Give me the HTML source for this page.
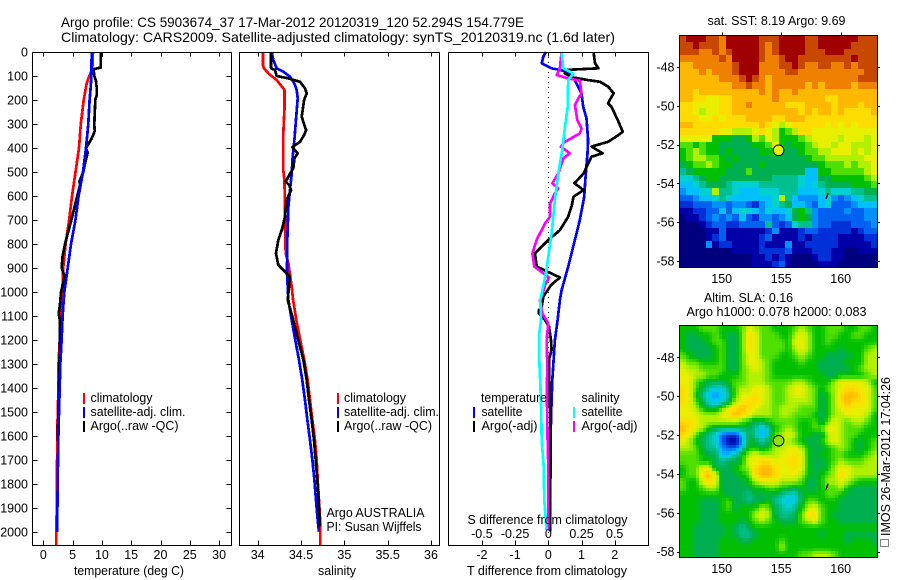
<!DOCTYPE html>
<html lang="en">
<head>
<meta charset="utf-8">
<title>Argo profile</title>
<style>
html,body{margin:0;padding:0;background:#fff;width:900px;height:580px;overflow:hidden}
svg{display:block}
text{font-family:"Liberation Sans",sans-serif;font-size:12.5px;fill:#000}
.t{font-size:14px}
</style>
</head>
<body>
<svg id="fig" xmlns="http://www.w3.org/2000/svg" width="900" height="580" viewBox="0 0 900 580">
<rect x="0" y="0" width="900" height="580" fill="#fff"/>
<g id="layer"></g>
<g id="labels">
<text class="t" x="61" y="27" textLength="463" lengthAdjust="spacingAndGlyphs">Argo profile: CS 5903674_37 17-Mar-2012 20120319_120 52.294S 154.779E</text>
<text class="t" x="61" y="42" textLength="554" lengthAdjust="spacingAndGlyphs">Climatology: CARS2009. Satellite-adjusted climatology: synTS_20120319.nc (1.6d later)</text>
<text x="74" y="575" textLength="110" lengthAdjust="spacingAndGlyphs">temperature (deg C)</text>
<text x="318" y="575" textLength="38" lengthAdjust="spacingAndGlyphs">salinity</text>
<text x="467" y="575" textLength="160" lengthAdjust="spacingAndGlyphs">T difference from climatology</text>
<text x="467.5" y="524" textLength="160" lengthAdjust="spacingAndGlyphs">S difference from climatology</text>
<text x="90.5" y="402" textLength="62" lengthAdjust="spacingAndGlyphs">climatology</text>
<text x="90.5" y="416" textLength="95" lengthAdjust="spacingAndGlyphs">satellite-adj. clim.</text>
<text x="90.5" y="430" textLength="88" lengthAdjust="spacingAndGlyphs">Argo(..raw -QC)</text>
<text x="344" y="402" textLength="62" lengthAdjust="spacingAndGlyphs">climatology</text>
<text x="344" y="416" textLength="95" lengthAdjust="spacingAndGlyphs">satellite-adj. clim.</text>
<text x="344" y="430" textLength="88" lengthAdjust="spacingAndGlyphs">Argo(..raw -QC)</text>
<text x="326.5" y="517" textLength="98" lengthAdjust="spacingAndGlyphs">Argo AUSTRALIA</text>
<text x="326.5" y="531" textLength="95" lengthAdjust="spacingAndGlyphs">PI: Susan Wijffels</text>
<text x="481" y="402" textLength="66" lengthAdjust="spacingAndGlyphs">temperature</text>
<text x="481.5" y="416" textLength="41" lengthAdjust="spacingAndGlyphs">satellite</text>
<text x="481.5" y="430" textLength="56" lengthAdjust="spacingAndGlyphs">Argo(-adj)</text>
<text x="581.5" y="402" textLength="38" lengthAdjust="spacingAndGlyphs">salinity</text>
<text x="581.5" y="416" textLength="41" lengthAdjust="spacingAndGlyphs">satellite</text>
<text x="581.5" y="430" textLength="56" lengthAdjust="spacingAndGlyphs">Argo(-adj)</text>
<text x="707.5" y="25" textLength="138" lengthAdjust="spacingAndGlyphs">sat. SST: 8.19 Argo: 9.69</text>
<text x="704" y="302" textLength="89" lengthAdjust="spacingAndGlyphs">Altim. SLA: 0.16</text>
<text x="686.5" y="316" textLength="180" lengthAdjust="spacingAndGlyphs">Argo h1000: 0.078 h2000: 0.083</text>
<rect x="880.5" y="539.5" width="8" height="7" fill="none" stroke="#000" stroke-dasharray="1 1" shape-rendering="crispEdges"/>
<text transform="translate(890,536) rotate(-90)" textLength="159" lengthAdjust="spacingAndGlyphs">IMOS 26-Mar-2012 17:04:26</text>
</g>
</svg>
<script>
// ---- temperature panel data
const tempClimDepth = [0,70,100,130,200,300,400,500,600,700,800,900,1000,1100,1200,1300,1400,1500,1600,1700,1800,1900,2000,2054];
const tempClim = [8.48,8.37,7.85,7.4,6.9,6.4,6.1,5.5,4.9,4.4,3.8,3.4,3.25,3.0,2.8,2.6,2.6,2.45,2.4,2.35,2.3,2.3,2.2,2.2];
const tempSatDepth = [0,100,150,200,300,400,500,600,700,800,900,1000,1100,1200,1300,1400,1500,1600,1700,1800,1900,2000];
const tempSat = [8.26,8.2,8.08,7.9,7.68,7.28,6.77,6.03,5.47,4.73,4.16,3.59,3.3,3.13,2.9,2.8,2.68,2.57,2.5,2.45,2.4,2.4];
const tempArgoDepth = [0,65,70,75,100,120,150,180,200,300,330,360,385,400,420,470,500,540,550,600,700,800,850,900,930,950,1000,1050,1090,1120,1200,1300,1400,1500,1620];
const tempArgo = [9.85,9.8,8.82,8.59,8.71,9.0,9.11,9.11,8.88,8.71,8.77,8.26,7.68,7.28,7.57,7.06,6.83,6.15,6.32,5.8,4.78,3.7,3.3,3.13,3.59,3.53,3.02,2.85,2.62,2.85,2.85,2.74,2.68,2.57,2.45];
const tempTicks = [0,5,10,15,20,25,30];
const depthTicks = [0,100,200,300,400,500,600,700,800,900,1000,1100,1200,1300,1400,1500,1600,1700,1800,1900,2000];

// ---- salinity panel data
const salClimDepth = [0,54,68,89,117,151,158,242,339,492,533,644,728,839,881,978,1033,1116,1200,1283,1367,1450,1533,1617,1700,1783,1867,1950,2054];
const salClim = [34.06,34.06,34.073,34.123,34.219,34.296,34.308,34.308,34.296,34.296,34.308,34.315,34.315,34.323,34.354,34.392,34.408,34.446,34.492,34.538,34.577,34.604,34.631,34.661,34.681,34.692,34.708,34.72,34.723];
const salSatDepth = [0,33,68,82,103,131,158,193,297,367,436,506,575,644,783,922,1033,1116,1200,1283,1367,1450,1533,1617,1700,1783,1867,1950,1998];
const salSat = [34.161,34.18,34.219,34.296,34.373,34.423,34.45,34.462,34.438,34.423,34.404,34.392,34.373,34.354,34.342,34.338,34.354,34.392,34.434,34.477,34.515,34.546,34.573,34.604,34.631,34.654,34.673,34.692,34.708];
const salArgoDepth = [0,68,75,100,110,124,151,172,200,242,269,304,325,346,374,388,397,422,443,485,512,540,554,575,617,686,742,783,839,888,922,936,1033,1116,1200,1283,1367,1450,1533,1617,1700,1783,1867,1977];
const salArgo = [34.154,34.154,34.2,34.219,34.354,34.488,34.546,34.565,34.535,34.519,34.508,34.538,34.558,34.535,34.488,34.43,34.4,34.462,34.423,34.411,34.365,34.323,34.361,34.385,34.334,34.315,34.277,34.238,34.211,34.238,34.334,34.373,34.346,34.411,34.469,34.527,34.565,34.592,34.623,34.65,34.669,34.688,34.704,34.72];
const salTicks = [34,34.5,35,35.5,36];

// ---- difference panel data
const dTSatDepth = [0,19,47,68,78,96,131,172,228,276,367,422,506,603,700,783,894,992,1033,1116,1200,1283,1367,1450,1533,1617,1727,1867,1998];
const dTSat = [-0.07,-0.15,-0.2,0.1,0.45,0.7,0.85,1.0,1.05,1.15,1.2,1.18,1.13,1.08,0.95,0.8,0.6,0.4,0.35,0.28,0.2,0.16,0.12,0.1,0.08,0.07,0.06,0.05,0.05];
const dTArgoDepth = [0,47,68,75,89,106,117,124,144,172,200,214,228,283,332,346,374,394,422,436,506,547,575,603,644,686,742,783,839,894,939,971,1019,1061,1075,1089,1116,1144,1200,1241,1276,1359,1450,1617,1867,1998];
const dTArgo = [1.36,1.41,1.51,0.5,0.5,0.75,1.2,1.56,1.8,1.97,1.85,1.8,1.9,2.09,2.24,2.11,1.8,1.3,1.64,1.3,1.06,0.79,1.06,0.76,0.7,0.6,0.35,0,-0.4,-0.35,0.35,0.08,-0.15,-0.2,-0.28,-0.28,-0.1,0.02,0.08,0.1,0.03,0.03,0.05,0.07,0.06,0.06];
const dSSatDepth = [0,68,89,117,228,311,408,506,617,756,922,1033,1116,1172,1283,1450,1617,1727,1867,1991];
const dSSat = [0.1,0.113,0.188,0.15,0.146,0.126,0.105,0.075,0.05,0.025,-0.018,-0.06,-0.055,-0.068,-0.068,-0.055,-0.05,-0.035,-0.03,-0.013];
const dSArgoDepth = [0,33,68,96,110,119,172,193,221,283,318,339,374,394,422,443,506,547,568,589,631,686,714,783,839,894,939,971,1019,1033,1089,1130,1200,1283,1450,1617,1727,1867,1991];
const dSArgo = [0.1,0.093,0.088,0.063,0.15,0.238,0.25,0.226,0.2,0.218,0.25,0.238,0.126,0.095,0.163,0.113,0.075,0.03,0.075,0.05,0.013,0.013,-0.025,-0.088,-0.12,-0.105,0.005,-0.025,-0.05,-0.063,-0.045,0,-0.013,-0.008,-0.01,-0.005,0,0,0];
const dTTicks = [-2,-1,0,1,2];
const dSTicks = [-0.5,-0.25,0,0.25,0.5];
const dSTickLabels = ['-0.5','-0.25','0','0.25','0.5'];

// ---- map data (values are colour-scale levels)
const lonTicks = [150,155,160];
const latTicks = [-48,-50,-52,-54,-56,-58];
const argoLon = [154.779];
const argoLat = [-52.294];
const islandLon = [158.75,158.85,158.95];
const islandLat = [-54.8,-54.65,-54.5];
const sstGrid = [
[16,17,17,17,16,16,15,17,17,17,17,17,16,16,16,17,17,17,17,16,16,17,17,17,17,17,17,16,16,16],
[16,16,17,16,16,16,15,17,17,17,17,17,16,15,16,17,17,17,17,16,16,17,17,17,17,17,16,16,16,16],
[16,16,16,15,15,16,15,16,17,17,17,17,16,15,16,17,17,17,17,16,16,16,17,17,17,16,16,16,16,16],
[15,15,15,15,15,15,16,15,17,17,17,17,16,15,15,16,17,17,16,16,16,16,16,16,16,16,17,16,16,16],
[14,14,15,15,15,15,15,15,16,17,17,17,15,15,15,16,16,17,16,15,15,16,16,15,15,16,15,16,16,16],
[14,14,14,15,14,15,15,15,16,17,17,17,15,15,15,15,16,16,15,15,15,15,15,15,15,15,15,15,16,16],
[14,14,14,14,14,14,15,15,15,16,17,16,15,14,15,15,15,15,15,15,15,15,15,15,15,15,15,16,16,16],
[14,14,14,14,14,14,14,14,15,15,16,15,15,14,15,15,15,15,15,14,15,14,15,15,15,15,14,15,15,15],
[14,14,13,14,14,14,14,14,14,14,14,14,15,14,15,14,14,15,14,14,14,14,14,14,14,14,14,14,14,14],
[14,14,13,13,12,12,13,13,14,14,14,14,14,14,15,14,14,14,14,14,14,14,13,13,14,14,14,14,14,14],
[13,13,12,12,12,12,13,13,14,14,15,14,14,14,14,14,13,13,13,14,14,14,14,13,14,14,14,13,14,14],
[13,13,12,11,12,12,13,13,14,14,14,14,14,14,14,14,14,14,13,14,13,14,14,13,14,13,13,13,13,14],
[13,13,13,12,12,13,12,13,13,13,14,14,14,14,13,13,14,14,14,13,13,13,13,13,13,13,13,13,13,13],
[14,14,13,13,13,13,13,13,13,13,13,13,14,13,12,11,12,13,13,13,13,13,12,13,12,13,12,13,13,13],
[13,13,13,13,13,13,12,12,11,11,11,12,13,12,11,9,10,11,13,13,12,12,12,12,12,12,12,12,12,12],
[12,12,12,12,12,9,9,9,8,8,9,11,10,12,11,9,9,9,10,11,12,12,12,12,11,12,12,12,11,12],
[10,10,9,10,9,9,8,8,8,8,8,9,9,10,12,9,8,9,9,10,11,12,12,11,12,12,11,11,11,12],
[9,10,11,10,9,9,8,9,8,8,8,8,9,9,9,8,8,8,9,10,10,11,11,12,12,12,11,12,11,12],
[9,10,11,11,10,10,9,8,9,8,8,8,8,8,8,8,8,8,8,9,10,10,11,11,11,11,11,11,12,12],
[8,9,10,10,11,10,9,9,8,8,8,8,9,8,8,8,8,8,8,8,8,9,10,10,10,11,10,11,11,12],
[7,8,9,9,9,9,9,8,8,8,10,8,8,8,8,8,8,8,8,5,5,9,9,10,10,10,10,10,11,12],
[6,6,7,8,9,9,8,8,8,8,8,8,8,8,7,7,7,7,6,5,5,8,8,9,9,9,9,9,10,11],
[5,5,6,7,8,8,8,7,6,6,6,6,7,7,7,7,7,7,6,5,6,7,8,8,8,8,9,9,9,10],
[4,5,5,6,6,11,7,7,6,5,5,5,6,6,6,7,7,7,5,5,5,6,7,6,6,6,7,7,8,8],
[3,3,4,5,5,6,7,6,5,5,5,5,5,5,6,11,7,5,4,4,4,5,6,4,3,4,5,6,7,7],
[2,2,3,3,3,4,4,3,4,4,3,2,4,5,6,7,8,5,5,4,3,5,6,3,3,3,4,5,5,5],
[1,1,2,2,3,3,5,3,5,6,6,5,4,6,5,5,6,8,9,7,4,3,3,3,3,4,3,3,4,4],
[0,1,1,2,3,4,3,4,3,5,3,2,4,4,3,4,5,8,9,8,4,3,3,3,3,3,3,3,4,4],
[0,0,0,1,2,3,3,2,2,3,3,3,3,7,3,2,3,6,7,7,4,3,3,2,2,2,3,3,3,4],
[0,0,0,0,1,1,3,1,1,1,1,1,1,2,4,1,1,1,2,3,3,2,2,2,2,2,1,2,3,3],
[0,0,0,0,1,2,3,1,1,1,1,1,2,3,1,1,1,1,2,1,2,2,2,2,1,1,1,1,2,2],
[0,0,0,0,4,1,2,2,1,1,1,1,2,1,1,1,4,1,1,2,2,2,2,2,1,1,1,1,1,2],
[0,0,0,0,0,0,0,0,1,1,1,1,2,2,2,2,3,1,1,1,2,2,2,1,1,0,0,1,1,1],
[0,0,0,0,0,0,0,0,0,0,0,1,1,2,1,2,1,0,0,0,1,2,2,1,1,0,0,0,0,0],
[0,0,0,0,0,0,0,0,0,0,0,1,1,1,2,3,1,0,0,0,0,1,1,1,0,0,0,0,0,0]
];
const slaGrid = [
[9,9,9,10,10,10,9,9,9,10,12,11,10,10,9,9,9,10,11,10,9,9,10,10,10,9,9,10,10,9],
[9,8,8,9,9,10,9,8,8,10,13,12,10,10,10,9,9,11,12,11,9,9,10,10,9,9,10,10,9,9],
[9,8,8,8,9,10,10,8,8,10,13,12,10,10,10,10,9,12,12,11,9,9,10,9,9,9,9,9,9,9],
[9,8,8,8,8,9,10,8,8,10,13,12,10,10,10,10,9,11,12,11,9,9,9,9,8,9,9,9,10,11],
[10,9,8,8,8,9,10,8,8,10,12,12,10,10,10,9,9,10,11,10,9,9,8,8,8,8,9,9,11,11],
[11,10,10,9,9,9,10,8,8,10,12,12,11,10,9,9,9,9,10,9,9,8,8,8,8,9,9,9,11,11],
[12,11,11,10,10,10,10,8,8,10,11,12,11,10,9,9,9,9,9,9,9,8,8,8,8,8,9,10,11,11],
[12,12,11,11,10,10,9,9,9,10,11,11,11,10,9,9,9,9,9,9,9,9,8,8,9,9,9,9,10,11],
[12,12,10,9,8,8,8,9,10,10,11,11,11,10,10,10,10,11,11,10,9,9,9,11,12,12,12,12,11,9],
[13,12,10,8,7,6,6,8,10,11,11,12,12,11,10,10,11,12,12,11,10,9,10,11,12,13,13,12,12,10],
[13,12,9,7,5,4,5,7,10,12,12,13,12,11,10,10,11,12,12,11,10,8,9,11,13,14,14,13,12,10],
[13,12,10,8,6,5,6,8,11,12,13,13,12,11,10,10,11,11,11,11,10,8,9,11,13,14,13,13,12,10],
[12,12,11,9,8,8,10,12,13,14,13,12,11,11,10,11,11,11,10,10,10,8,9,11,12,13,12,12,12,10],
[12,12,12,11,11,11,12,13,14,13,12,11,11,11,10,11,11,10,10,10,9,8,9,11,11,12,12,12,11,9],
[13,13,12,11,11,11,11,11,11,10,9,8,8,9,10,10,10,10,9,9,10,8,10,12,11,10,11,11,10,9],
[14,13,12,11,9,8,8,8,8,8,8,7,5,7,9,10,11,10,9,9,10,10,12,12,11,10,10,10,9,9],
[13,12,10,8,7,6,3,2,2,5,8,7,4,7,10,11,12,11,9,9,8,8,11,12,11,10,10,9,9,9],
[12,11,9,8,7,6,3,1,1,4,9,8,7,8,10,11,11,10,9,8,8,9,11,12,11,10,9,8,9,10],
[11,11,10,8,7,7,4,3,3,6,9,9,8,9,11,11,12,12,11,9,8,8,9,10,11,10,9,8,9,10],
[10,10,10,9,8,8,5,5,7,9,11,12,11,11,11,12,12,13,12,9,8,9,9,10,10,9,9,9,10,11],
[10,10,10,9,9,8,7,8,8,9,12,12,13,13,12,12,13,13,12,9,8,8,9,10,11,10,10,10,11,11],
[9,10,10,12,12,8,8,8,9,10,11,13,14,14,13,12,12,13,12,9,8,8,9,11,12,12,11,11,11,11],
[9,10,10,13,14,12,8,8,8,9,10,13,14,14,13,12,12,12,11,9,8,9,10,11,13,12,11,11,11,11],
[10,9,9,12,13,12,8,8,8,8,9,11,12,12,12,11,11,11,10,8,8,9,11,11,12,11,10,9,9,9],
[10,9,9,10,11,11,8,8,8,8,8,9,9,10,10,9,9,8,9,8,8,9,10,10,11,9,8,8,8,8],
[9,9,9,9,9,9,9,8,8,8,7,8,8,8,8,7,6,6,8,9,9,9,10,10,9,8,8,8,8,8],
[9,9,9,8,8,8,9,10,8,8,7,8,8,9,7,6,5,6,8,10,10,9,9,9,8,8,8,8,8,8],
[9,9,9,8,8,8,9,10,8,9,9,9,11,10,8,7,6,7,9,11,12,10,9,9,8,8,8,8,8,8],
[9,9,9,8,8,8,9,9,9,9,9,11,12,11,8,7,7,8,10,13,13,10,9,8,8,8,8,8,8,8],
[9,9,9,8,8,8,9,9,9,8,9,10,11,10,9,8,8,8,10,11,12,10,9,9,8,8,8,8,8,8],
[9,9,8,8,8,8,8,9,8,7,8,9,9,9,9,9,9,9,9,9,9,9,9,9,9,9,9,9,9,9],
[9,9,8,8,8,8,8,9,8,7,7,8,9,9,9,9,9,9,9,9,9,8,9,9,9,8,8,8,8,8],
[9,9,8,8,8,8,9,9,9,8,8,9,9,9,9,10,9,9,9,9,9,9,9,9,9,8,9,9,9,8],
[9,9,8,8,8,8,9,9,9,9,9,9,9,9,9,11,9,9,9,9,9,9,9,9,9,9,9,9,9,9],
[9,9,8,8,8,8,9,9,9,9,9,9,9,9,9,9,9,9,10,10,11,11,11,10,9,9,9,9,9,9]
];
const colorLevels = ['#00007f','#0000a8','#0030d8','#0060f0','#0090ff','#00c0ff','#00d0d0','#00c090','#00b050','#00c000','#50e000','#b0f000','#e8f000','#ffdc00','#ffb800','#f08000','#c84800','#a00000'];

const NS = 'http://www.w3.org/2000/svg';
const layer = document.getElementById('layer');
function mk(tag, parent, attrs, txt) {
  const el = document.createElementNS(NS, tag);
  for (const k in attrs) el.setAttribute(k, attrs[k]);
  if (txt !== undefined) el.textContent = txt;
  parent.appendChild(el);
  return el;
}
function linear(d0, d1, r0, r1) {
  return v => r0 + (v - d0) * (r1 - r0) / (d1 - d0);
}
const yDepth = linear(0, 2000, 52, 532.2);
const xTemp = linear(0, 30, 43.3, 219.1);
const xSal = linear(34, 36, 257.7, 431);
const xDT = linear(-2, 2, 481.9, 614.7);
const xDS = linear(-0.5, 0.5, 481.9, 614.7);
const PT = 52.5, PB = 545.5;

function frame(x0, x1, y0, y1, name) {
  const r = mk('rect', layer, {x:x0, y:y0, width:x1-x0, height:y1-y0, fill:'none', stroke:'#000', 'stroke-width':1, 'shape-rendering':'crispEdges'});
  
  
}
function tick(x1, y1, x2, y2) {
  const t = mk('line', layer, {x1:x1, y1:y1, x2:x2, y2:y2, stroke:'#000', 'stroke-width':1, 'shape-rendering':'crispEdges'});
  
  
}
function label(x, y, anchor, s) {
  const t = mk('text', layer, {x:x, y:y, 'text-anchor':anchor}, s);
  
  
}
function series(depths, values, xf, color, name, w) {
  const pts = depths.map((d, i) => Math.round(xf(values[i])*10)/10 + ',' + Math.round(yDepth(d)*10)/10).join(' ');
  const p = mk('polyline', layer, {points:pts, fill:'none', stroke:color, 'stroke-width':w || 2.7, 'shape-rendering':'crispEdges', 'stroke-linejoin':'round'});
  
  
}
function legendBar(x, y, color, name) {
  const r = mk('rect', layer, {x:x, y:y, width:2, height:11, fill:color, 'shape-rendering':'crispEdges'});
  
  
}

// temperature panel
series(tempClimDepth, tempClim, xTemp, '#ff0000', 'temperature-climatology-line');
series(tempArgoDepth, tempArgo, xTemp, '#000000', 'temperature-argo-line');
series(tempSatDepth, tempSat, xTemp, '#0000ff', 'temperature-satellite-line');
frame(32.5, 231.5, PT, PB, 'temperature-plot-frame');
tempTicks.forEach(v => {
  const x = Math.round(xTemp(v)) + 0.5;
  tick(x, PT, x, PT + 4);
  tick(x, PB, x, PB - 5);
  label(xTemp(v), 559, 'middle', String(v));
});
depthTicks.forEach(v => {
  const y = Math.round(yDepth(v)) + 0.5;
  tick(32.5, y, 37.5, y);
  tick(231.5, y, 226.5, y);
  label(28, yDepth(v) + 4.5, 'end', String(v));
});
legendBar(83, 393, '#ff0000', 'temp-legend-swatch-climatology');
legendBar(83, 407, '#0000ff', 'temp-legend-swatch-satellite');
legendBar(83, 421, '#000000', 'temp-legend-swatch-argo');

// salinity panel
series(salClimDepth, salClim, xSal, '#ff0000', 'salinity-climatology-line');
series(salSatDepth, salSat, xSal, '#0000ff', 'salinity-satellite-line');
series(salArgoDepth, salArgo, xSal, '#000000', 'salinity-argo-line');
frame(239.5, 439.5, PT, PB, 'salinity-plot-frame');
salTicks.forEach(v => {
  const x = Math.round(xSal(v)) + 0.5;
  tick(x, PT, x, PT + 4);
  tick(x, PB, x, PB - 5);
  label(xSal(v), 559, 'middle', String(v));
});
legendBar(337, 393, '#ff0000', 'sal-legend-swatch-climatology');
legendBar(337, 407, '#0000ff', 'sal-legend-swatch-satellite');
legendBar(337, 421, '#000000', 'sal-legend-swatch-argo');

// difference panel
const zero = mk('line', layer, {x1:Math.round(xDT(0))+0.5, y1:52, x2:Math.round(xDT(0))+0.5, y2:535, stroke:'#000', 'stroke-width':1, 'stroke-dasharray':'1 4', 'shape-rendering':'crispEdges'});


series(dTSatDepth, dTSat, xDT, '#0000ff', 't-difference-satellite-line');
series(dTArgoDepth, dTArgo, xDT, '#000000', 't-difference-argo-line');
series(dSArgoDepth, dSArgo, xDS, '#ff00ff', 's-difference-argo-line');
series(dSSatDepth, dSSat, xDS, '#00ffff', 's-difference-satellite-line');
frame(448.5, 648.5, PT, PB, 'difference-plot-frame');
dTTicks.forEach(v => {
  const x = Math.round(xDT(v)) + 0.5;
  tick(x, PT, x, PT + 4);
  tick(x, PB, x, PB - 5);
  label(xDT(v), 559, 'middle', String(v));
});
dSTicks.forEach((v, i) => {
  label(xDS(v), 538, 'middle', dSTickLabels[i]);
});
legendBar(473, 407, '#0000ff', 'diff-legend-swatch-t-satellite');
legendBar(473, 421, '#000000', 'diff-legend-swatch-t-argo');
legendBar(573, 407, '#00ffff', 'diff-legend-swatch-s-satellite');
legendBar(573, 421, '#ff00ff', 'diff-legend-swatch-s-argo');

// map panels
function levelColor(v) {
  const t = Math.max(0, Math.min(colorLevels.length - 1, v));
  const i = Math.min(colorLevels.length - 2, Math.floor(t));
  const f = t - i;
  const a = colorLevels[i], b = colorLevels[i + 1];
  const ch = s => parseInt(a.substr(s, 2), 16) * (1 - f) + parseInt(b.substr(s, 2), 16) * f;
  return 'rgb(' + Math.round(ch(1)) + ',' + Math.round(ch(3)) + ',' + Math.round(ch(5)) + ')';
}
function sampleGrid(grid, rf, cf) {
  const rows = grid.length, cols = grid[0].length;
  const r = Math.max(0, Math.min(rows - 1, rf)), c = Math.max(0, Math.min(cols - 1, cf));
  const r0 = Math.floor(r), c0 = Math.floor(c);
  const r1 = Math.min(rows - 1, r0 + 1), c1 = Math.min(cols - 1, c0 + 1);
  const fr = r - r0, fc = c - c0;
  return grid[r0][c0]*(1-fr)*(1-fc) + grid[r0][c1]*(1-fr)*fc + grid[r1][c0]*fr*(1-fc) + grid[r1][c1]*fr*fc;
}
function drawMap(grid, top, bottom, y48, y58, markerFill, baseName, labelY, sub) {
  const L = 679.5, R = 877.5;
  const xLon = linear(150, 160, 721.7, 840.7);
  const yLat = linear(-48, -58, y48, y58);
  const lon0 = linear(721.7, 840.7, 150, 160)(L);
  const lat0 = linear(y48, y58, -48, -58)(top);
  const nRows = grid.length * sub, nCols = grid[0].length * sub;
  const dLon = (linear(721.7, 840.7, 150, 160)(R) - lon0) / nCols;
  const dLat = (linear(y48, y58, -48, -58)(bottom) - lat0) / nRows;
  const g = mk('g', layer, {'shape-rendering':'crispEdges'});
  
  
  for (let r = 0; r < nRows; r++) {
    for (let c = 0; c < nCols; c++) {
      const v = sampleGrid(grid, (r + 0.5) / sub - 0.5, (c + 0.5) / sub - 0.5);
      const x0 = Math.round(xLon(lon0 + c * dLon));
      const x1 = Math.round(xLon(lon0 + (c + 1) * dLon));
      const y0 = Math.round(yLat(lat0 + r * dLat));
      const y1 = Math.round(yLat(lat0 + (r + 1) * dLat));
      const cell = mk('rect', g, {x:x0, y:y0, width:x1 - x0, height:y1 - y0, fill:levelColor(v)});
      
      
    }
  }
  frame(L, R, top, bottom, baseName + '-frame');
  lonTicks.forEach(v => {
    const x = Math.round(xLon(v)) + 0.5;
    tick(x, top, x, top - 3);
    label(xLon(v), labelY, 'middle', String(v));
  });
  latTicks.forEach(v => {
    const y = Math.round(yLat(v)) + 0.5;
    tick(L, y, L - 2.5, y);
    tick(R, y, R + 2.5, y);
    label(674.5, yLat(v) + 4.5, 'end', String(v));
  });
  const isl = mk('polyline', layer, {points:islandLon.map((v, i) => xLon(v) + ',' + yLat(islandLat[i])).join(' '), fill:'none', stroke:'#000', 'stroke-width':1.4, 'shape-rendering':'crispEdges'});
  
  
  const m = mk('circle', layer, {cx:xLon(argoLon[0]), cy:yLat(argoLat[0]), r:5.3, fill:markerFill, stroke:'#000', 'stroke-width':1});
  
  
}
drawMap(sstGrid, 35.5, 267.5, 67, 261, '#e8f000', 'sst-map', 283, 1);
drawMap(slaGrid, 325.5, 557.5, 357.3, 551.7, '#90e000', 'sla-map', 573, 2);
</script>
</body>
</html>
